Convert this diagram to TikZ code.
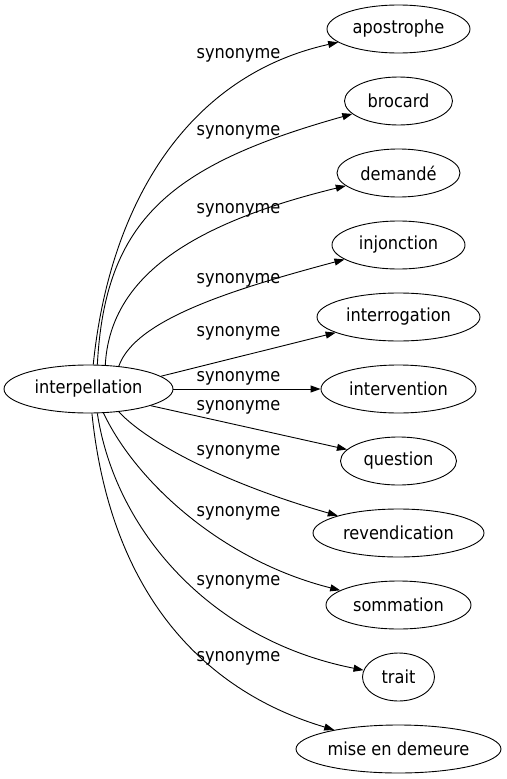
\documentclass[tikz,border=0pt]{standalone}
\usepackage{fontspec}
\setmainfont{DejaVu Sans Condensed}
\usetikzlibrary{shapes.geometric,arrows.meta}

\tikzset{
  mot/.style={draw, ellipse, inner sep=0pt, minimum height=48pt, line width=0.9pt},
  syn/.style={-{Triangle[length=10pt,width=7pt]}, line width=0.9pt},
  lab/.style={inner sep=0pt}
}

\begin{document}
\begin{tikzpicture}[x=1pt, y=-1pt, font=\fontsize{18}{20}\selectfont]
\useasboundingbox (0,0) rectangle (506,779);
\node[mot, minimum width=169pt] (interpellation) at (88.5, 389) {interpellation};
\node[mot, minimum width=143pt] (apostrophe) at (398.5, 29) {apostrophe};
\node[mot, minimum width=108pt] (brocard) at (398.5, 101) {brocard};
\node[mot, minimum width=123pt] (demande) at (398.5, 173) {demandé};
\node[mot, minimum width=133pt] (injonction) at (398.5, 245) {injonction};
\node[mot, minimum width=163pt] (interrogation) at (398.5, 317) {interrogation};
\node[mot, minimum width=155pt] (intervention) at (398.5, 389) {intervention};
\node[mot, minimum width=116pt] (question) at (398.5, 461) {question};
\node[mot, minimum width=171pt] (revendication) at (398.5, 533) {revendication};
\node[mot, minimum width=145pt] (sommation) at (398.5, 605) {sommation};
\node[mot, minimum width=72pt] (trait) at (398.5, 677) {trait};
\node[mot, minimum width=205pt] (demeure) at (398.5, 749) {mise en demeure};

\draw[syn] (interpellation.79) .. controls (110,200) and (190,75) .. (apostrophe);
\draw[syn] (interpellation.70) .. controls (105,220) and (170,165) .. (brocard);
\draw[syn] (interpellation.55) .. controls (110,280) and (185,225) .. (demande);
\draw[syn] (interpellation.37) .. controls (135,320) and (230,290) .. (injonction);
\draw[syn] (interpellation.10) -- (interrogation);
\draw[syn] (interpellation) -- (intervention);
\draw[syn] (interpellation.-15) -- (question);
\draw[syn] (interpellation.-37) .. controls (150,445) and (230,485) .. (revendication);
\draw[syn] (interpellation.-58) .. controls (135,480) and (220,560) .. (sommation);
\draw[syn] (interpellation.-70) .. controls (115,530) and (210,640) .. (trait);
\draw[syn] (interpellation.-82) .. controls (110,590) and (200,690) .. (demeure);

\node[lab] (s1) at (238.5, 55) {synonyme};
\node[lab] (s2) at (238.5, 132) {synonyme};
\node[lab] (s3) at (238.5, 210) {synonyme};
\node[lab] (s4) at (238.5, 280) {synonyme};
\node[lab] (s5) at (238.5, 333) {synonyme};
\node[lab] (s6) at (238.5, 378) {synonyme};
\node[lab] (s7) at (238.5, 407) {synonyme};
\node[lab] (s8) at (238.5, 452) {synonyme};
\node[lab] (s9) at (238.5, 513) {synonyme};
\node[lab] (s10) at (238.5, 582) {synonyme};
\node[lab] (s11) at (238.5, 658) {synonyme};
\end{tikzpicture}
\end{document}
